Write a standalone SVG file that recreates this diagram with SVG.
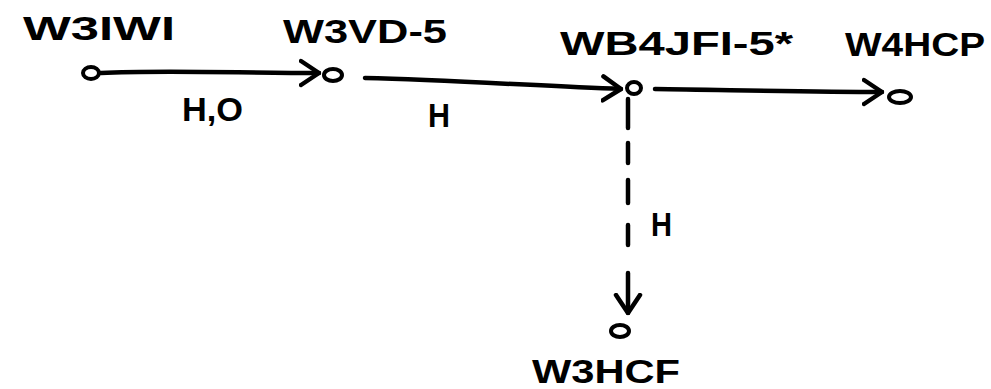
<svg xmlns="http://www.w3.org/2000/svg" width="991" height="389" viewBox="0 0 991 389">
  <style>
    .lbl { font-family: "Liberation Sans", Arial, sans-serif; font-weight: bold; fill: #000; }
    .call { font-size: 34px; }
    .edge-lbl { font-size: 33px; }
    .node { fill: none; stroke: #000; stroke-width: 4; }
    .wire { fill: none; stroke: #000; stroke-width: 4.5; stroke-linecap: round; stroke-linejoin: round; }
  </style>
  <defs>
    <marker id="head" viewBox="0 0 22 30" refX="20" refY="15" markerWidth="22" markerHeight="30" markerUnits="userSpaceOnUse" orient="auto">
      <path d="M2,3 L20,15 L2,27" fill="none" stroke="#000" stroke-width="4.5" stroke-linecap="round" stroke-linejoin="round"/>
    </marker>
  </defs>

  <rect width="991" height="389" fill="#fff"/>

  <!-- connectors -->
  <g id="connectors">
    <path class="wire" d="M101,73 C160,70 240,73 319,73" marker-end="url(#head)"/>
    <path class="wire" d="M365,78 C450,80 540,86 621,89" marker-end="url(#head)"/>
    <path class="wire" d="M655,89 C730,90 810,92 882,92" marker-end="url(#head)"/>
    <path class="wire" d="M628,99 L628,128 M628,143 L628,163 M628,180 L628,203 M628,225 L628,245 M628,273 L628,313" marker-end="url(#head)"/>
    <text class="lbl edge-lbl" x="182" y="121" textLength="61" lengthAdjust="spacingAndGlyphs">H,O</text>
    <text class="lbl edge-lbl" x="428" y="127" textLength="22" lengthAdjust="spacingAndGlyphs">H</text>
    <text class="lbl edge-lbl" x="651" y="236" textLength="21" lengthAdjust="spacingAndGlyphs">H</text>
  </g>

  <g id="w3iwi">
    <ellipse class="node" cx="91" cy="73" rx="8" ry="6"/>
    <text class="lbl call" x="23" y="40" textLength="152" lengthAdjust="spacingAndGlyphs">W3IWI</text>
  </g>
  <g id="w3vd-5">
    <ellipse class="node" cx="333" cy="75" rx="9" ry="6"/>
    <text class="lbl call" x="283" y="43" textLength="164" lengthAdjust="spacingAndGlyphs">W3VD-5</text>
  </g>
  <g id="wb4jfi-5">
    <ellipse class="node" cx="634" cy="88" rx="7" ry="6"/>
    <text class="lbl call" x="560" y="55" textLength="233" lengthAdjust="spacingAndGlyphs">WB4JFI-5*</text>
  </g>
  <g id="w4hcp">
    <ellipse class="node" cx="900" cy="97" rx="11" ry="6"/>
    <text class="lbl call" x="845" y="56" textLength="140" lengthAdjust="spacingAndGlyphs">W4HCP</text>
  </g>
  <g id="w3hcf">
    <ellipse class="node" cx="620" cy="331" rx="9" ry="6"/>
    <text class="lbl call" x="532" y="383" textLength="148" lengthAdjust="spacingAndGlyphs">W3HCF</text>
  </g>
</svg>
